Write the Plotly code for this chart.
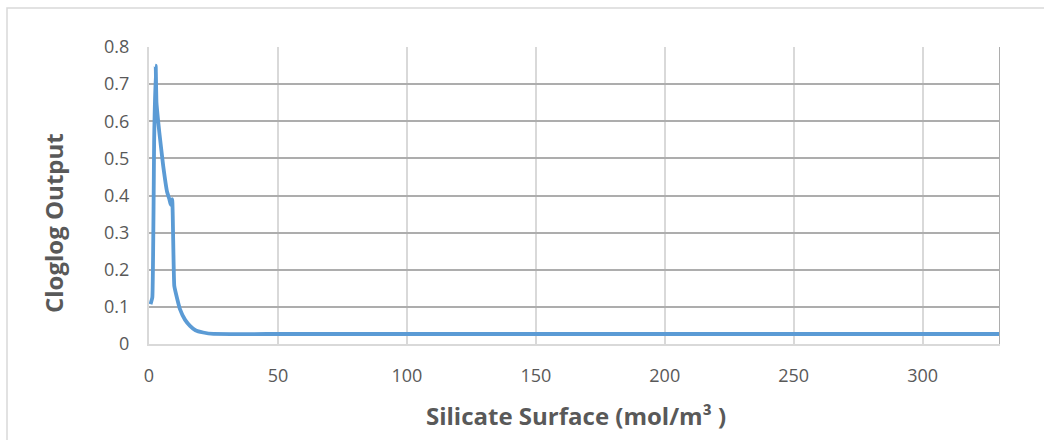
import plotly.graph_objects as go

silicate = [0.6, 1.3, 2.0, 2.6, 2.9, 4.0, 5.5, 7.0, 7.9, 8.4, 9.0, 9.8, 11.0, 12.0, 14.0, 15.9, 18.0, 21.0, 25.0, 50, 100, 150, 200, 250, 300, 330]
cloglog = [0.107, 0.126, 0.55, 0.75, 0.65, 0.57, 0.48, 0.41, 0.39, 0.375, 0.39, 0.157, 0.12, 0.094, 0.065, 0.049, 0.037, 0.031, 0.027, 0.027, 0.027, 0.027, 0.027, 0.027, 0.027, 0.027]

x_ticks = [0, 50, 100, 150, 200, 250, 300]
y_ticks = [0, 0.1, 0.2, 0.3, 0.4, 0.5, 0.6, 0.7, 0.8]
y_tick_text = ["0", "0.1", "0.2", "0.3", "0.4", "0.5", "0.6", "0.7", "0.8"]
x_title = "Silicate Surface (mol/m³ )"
y_title = "Cloglog Output"

fig = go.Figure()
fig.add_trace(go.Scatter(x=silicate, y=cloglog, mode="lines",
                         line=dict(color="#5B9BD5", width=3.8, shape="spline", smoothing=0.3),
                         showlegend=False))

W, H = 1044, 440
L, R, T, B = 149, 44, 47, 96
pw, ph = W - L - R, H - T - B

fig.update_layout(
    width=W, height=H,
    margin=dict(l=L, r=R, t=T, b=B),
    paper_bgcolor="white", plot_bgcolor="white",
    font=dict(family="Open Sans", color="#595959", size=18),
    xaxis=dict(range=[0, 330], tickvals=x_ticks, showgrid=True, gridcolor="#D9D9D9", gridwidth=1.5,
               showline=True, linecolor="#D9D9D9", linewidth=2, zeroline=False, ticks="",
               ticklabelstandoff=14),
    yaxis=dict(range=[0, 0.8], tickvals=y_ticks, ticktext=y_tick_text,
               showgrid=True, gridcolor="#ADADAD", gridwidth=1.5,
               showline=True, linecolor="#D9D9D9", linewidth=2, zeroline=False, ticks="",
               ticklabelstandoff=14),
    annotations=[
        dict(text="<b>" + x_title + "</b>", xref="paper", yref="paper",
             x=(576 - L) / pw, y=(H - B - 415) / ph, xanchor="center", yanchor="middle",
             showarrow=False, font=dict(size=24, color="#595959")),
        dict(text="<b>" + y_title + "</b>", xref="paper", yref="paper", textangle=-90,
             x=(53 - L) / pw, y=(H - B - 223) / ph, xanchor="center", yanchor="middle",
             showarrow=False, font=dict(size=24, color="#595959")),
    ],
    shapes=[
        dict(type="rect", xref="paper", yref="paper",
             x0=(7 - L) / pw, x1=(1050 - L) / pw, y0=-(H - T - 8 + 10) / ph + 1, y1=1 + (T - 8) / ph,
             line=dict(color="#D9D9D9", width=1.5), fillcolor="rgba(0,0,0,0)", layer="below"),
        dict(type="line", xref="x", yref="paper", x0=330, x1=330, y0=0, y1=1,
             line=dict(color="#ADADAD", width=2)),
    ],
)

fig.write_html("out.html")
